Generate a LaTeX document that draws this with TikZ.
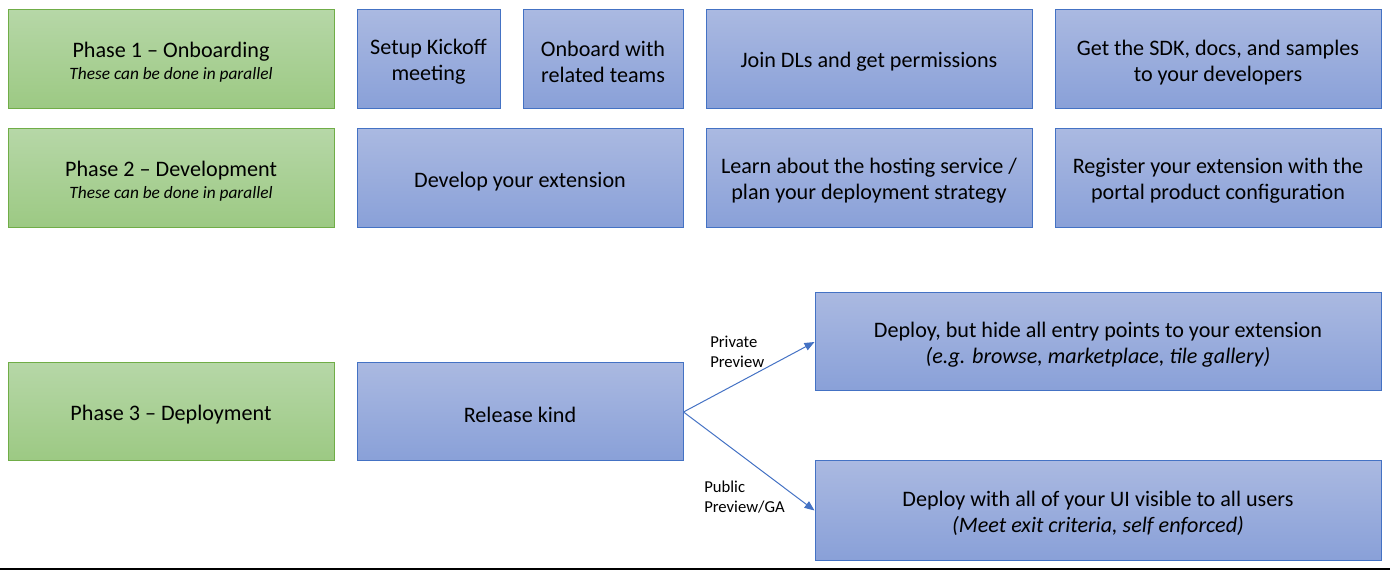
\documentclass[tikz,border=0pt]{standalone}
\usepackage{fontspec}
\setmainfont{Carlito}
\usetikzlibrary{arrows.meta}
\definecolor{gtop}{RGB}{182,215,167}
\definecolor{gbot}{RGB}{156,201,131}
\definecolor{gline}{RGB}{112,173,71}
\definecolor{btop}{RGB}{170,185,225}
\definecolor{bbot}{RGB}{137,160,216}
\definecolor{bline}{RGB}{68,114,196}
\begin{document}
\begin{tikzpicture}[x=0.75pt,y=-0.75pt,
  boxsz/.style 2 args={minimum width=#1*0.75pt, minimum height=#2*0.75pt},
  txt/.style={inner sep=0pt, align=center, text=black, yshift=-2pt,
    font=\fontsize{16.6}{19.5}\selectfont},
  base/.style={draw, line width=0.75pt, inner sep=0pt},
  tx/.style={label={[txt]center:{#1}}},
  greenbox/.style={base, draw=gline, top color=gtop, bottom color=gbot},
  bluebox/.style={base, draw=bline, top color=btop, bottom color=bbot},
  lbl/.style={align=left, inner sep=0pt, font=\fontsize{12.5}{15}\selectfont, anchor=west},
  conn/.style={draw=bline, line width=0.75pt, -{Triangle[length=7.5pt,width=6pt]}}
]
\useasboundingbox (0,0) rectangle (1390,570);
\newcommand{\subt}[1]{\\[-2.5pt]{\fontsize{13}{15}\selectfont\itshape #1}}
% row 1
\node[greenbox, boxsz={326}{99}, tx={Phase 1 -- Onboarding\subt{These can be done in parallel}}] (p1) at (171,59.5) {};
\node[bluebox, boxsz={143}{99}, tx={Setup Kickoff\\meeting}] (kick) at (428.5,59.5) {};
\node[bluebox, boxsz={160}{99}, tx={Onboard with\\related teams}] (onb) at (603,59.5) {};
\node[bluebox, boxsz={326}{99}, tx={Join DLs and get permissions}] (dls) at (869,59.5) {};
\node[bluebox, boxsz={326}{99}, tx={Get the SDK, docs, and samples\\to your developers}] (sdk) at (1218,59.5) {};
% row 2
\node[greenbox, boxsz={326}{99}, tx={Phase 2 -- Development\subt{These can be done in parallel}}] (p2) at (171,178.5) {};
\node[bluebox, boxsz={326}{99}, tx={Develop your extension}] (dev) at (520,178.5) {};
\node[bluebox, boxsz={326}{99}, tx={Learn about the hosting service /\\plan your deployment strategy}] (host) at (869,178.5) {};
\node[bluebox, boxsz={326}{99}, tx={Register your extension with the\\portal product configuration}] (reg) at (1218,178.5) {};
% row 3
\node[greenbox, boxsz={326}{98}, tx={Phase 3 -- Deployment}] (p3) at (171,412) {};
\node[bluebox, boxsz={326}{98}, tx={Release kind}] (rel) at (520,412) {};
\node[bluebox, boxsz={566}{98}, tx={Deploy, but hide all entry points to your extension\\\textit{(e.g. browse, marketplace, tile gallery)}}] (hide) at (1098,342) {};
\node[bluebox, boxsz={566}{99}, tx={Deploy with all of your UI visible to all users\\\textit{(Meet exit criteria, self enforced)}}] (all) at (1098,510.5) {};
% connectors
\draw[conn] (rel.east) -- (hide.west);
\draw[conn] (rel.east) -- (all.west);
\node[lbl] (lpriv) at (710,352) {Private\\Preview};
\node[lbl] (lpub) at (704,497) {Public\\Preview/GA};
% bottom rule
\coordinate (ruleL) at (0,569);
\coordinate (ruleR) at (1390,569);
\draw[black, line width=0.9pt] (ruleL) -- (ruleR);
\end{tikzpicture}
\end{document}
